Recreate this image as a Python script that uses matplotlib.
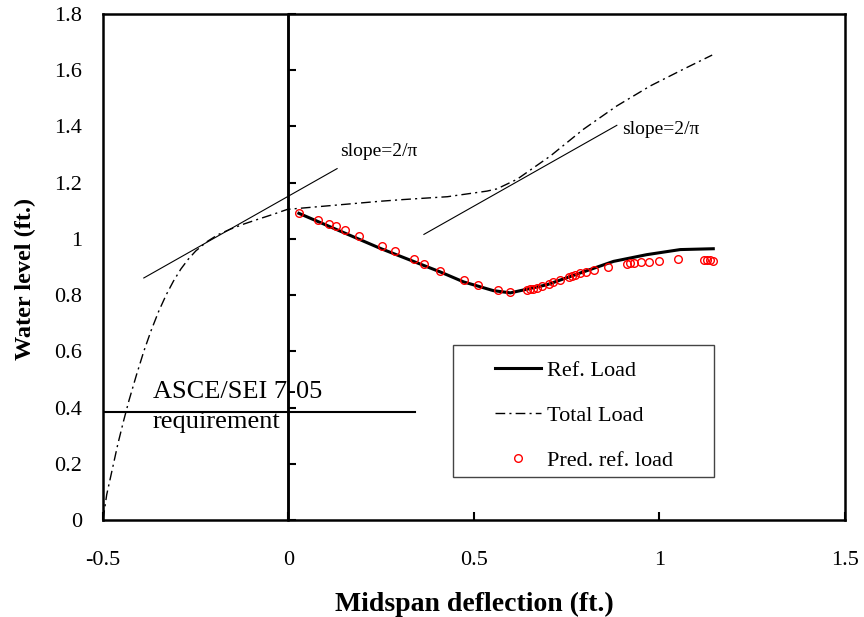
import matplotlib
matplotlib.use("Agg")
import matplotlib.pyplot as plt
from matplotlib.patches import Rectangle

plt.rcParams['font.family'] = ['Liberation Serif', 'DejaVu Serif']

# ---- data ----
total_x = [-0.500, -0.490, -0.475, -0.460, -0.445, -0.430, -0.410, -0.390, -0.370,
           -0.350, -0.330, -0.310, -0.290, -0.270, -0.250, -0.220, -0.190, -0.156,
           -0.120, -0.084, -0.040, -0.003, 0.023, 0.248, 0.310,
           0.428, 0.535, 0.562, 0.616, 0.706, 0.795, 0.885, 0.975, 1.065, 1.142]
total_y = [0.000, 0.090, 0.180, 0.270, 0.350, 0.425, 0.515, 0.600, 0.675,
           0.742, 0.800, 0.850, 0.893, 0.928, 0.957, 0.990, 1.015, 1.035,
           1.053, 1.069, 1.088, 1.105, 1.108, 1.134, 1.140,
           1.150, 1.170, 1.178, 1.212, 1.295, 1.390, 1.473, 1.544, 1.604, 1.654]

ref_x = [0.028, 0.248, 0.410, 0.472, 0.552, 0.598, 0.697, 0.787, 0.876, 0.966, 1.056, 1.145]
ref_y = [1.091, 0.966, 0.882, 0.847, 0.816, 0.808, 0.837, 0.879, 0.920, 0.944, 0.962, 0.965]

pred_x = [0.028, 0.080, 0.109, 0.127, 0.152, 0.191, 0.252, 0.286, 0.338, 0.366,
          0.409, 0.474, 0.511, 0.565, 0.596, 0.643, 0.650, 0.659, 0.670, 0.683,
          0.701, 0.713, 0.731, 0.755, 0.764, 0.773, 0.785, 0.803, 0.824, 0.860,
          0.912, 0.921, 0.932, 0.950, 0.971, 1.000, 1.049, 1.119, 1.128, 1.137, 1.144]
pred_y = [1.093, 1.067, 1.054, 1.045, 1.031, 1.010, 0.974, 0.956, 0.927, 0.911,
          0.886, 0.853, 0.836, 0.817, 0.810, 0.817, 0.820, 0.822, 0.827, 0.831,
          0.840, 0.846, 0.853, 0.864, 0.867, 0.871, 0.877, 0.884, 0.891, 0.900,
          0.912, 0.913, 0.915, 0.917, 0.919, 0.923, 0.927, 0.925, 0.924, 0.924, 0.923]

slope1_x = [-0.390, 0.131]
slope1_y = [0.861, 1.250]
slope2_x = [0.365, 0.885]
slope2_y = [1.016, 1.404]

asce_level = 0.384
asce_x = [-0.5, 0.342]

x_ticks = [-0.5, 0, 0.5, 1, 1.5]
x_labels = ['-0.5', '0', '0.5', '1', '1.5']
y_ticks = [0, 0.2, 0.4, 0.6, 0.8, 1.0, 1.2, 1.4, 1.6, 1.8]
y_labels = ['0', '0.2', '0.4', '0.6', '0.8', '1', '1.2', '1.4', '1.6', '1.8']

# ---- figure ----
fig = plt.figure(figsize=(8.64, 6.17), dpi=100)
ax = fig.add_axes([0.1192, 0.1572, 0.8588, 0.8201])
ax.set_xlim(-0.5, 1.5)
ax.set_ylim(0, 1.8)

for s in ax.spines.values():
    s.set_linewidth(1.8)

l_ref, = ax.plot(ref_x, ref_y, color='black', lw=2.2, label='Ref. Load', zorder=3)
l_tot, = ax.plot(total_x, total_y, color='black', lw=1.0, dashes=(7, 3, 1.5, 3),
                 label='Total Load', zorder=3)
l_pred, = ax.plot(pred_x, pred_y, ls='none', marker='o', ms=5.5, mfc='none',
                  mec='red', mew=1.0, label='Pred. ref. load', zorder=4)

ax.plot(slope1_x, slope1_y, color='black', lw=0.8)
ax.plot(slope2_x, slope2_y, color='black', lw=0.8)
ax.text(0.14, 1.31, 'slope=2/\u03c0', fontsize=14, va='center', ha='left')
ax.text(0.90, 1.388, 'slope=2/\u03c0', fontsize=14, va='center', ha='left')

ax.plot(asce_x, [asce_level, asce_level], color='black', lw=1.5)
ax.text(-0.366, 0.435, 'ASCE/SEI 7-05', fontsize=19, va='baseline', ha='left')
ax.text(-0.366, 0.327, 'requirement', fontsize=19, va='baseline', ha='left')

# vertical axis at x=0 with inward ticks
ax.axvline(0, color='black', lw=1.8, zorder=2)
sec = ax.secondary_yaxis(0.25)
sec.set_yticks(y_ticks)
sec.tick_params(direction='in', length=6, width=1.5, labelleft=False)
sec.spines['left'].set_linewidth(1.8)

ax.set_xticks(x_ticks)
ax.set_xticklabels(x_labels)
ax.set_yticks(y_ticks)
ax.set_yticklabels(y_labels)
ax.tick_params(axis='x', direction='in', length=6, width=1.5, pad=22, labelsize=16)
ax.tick_params(axis='y', length=0, pad=15, labelsize=16)

ax.set_xlabel('Midspan deflection (ft.)', fontsize=20, fontweight='bold', labelpad=16)
ax.set_ylabel('Water level (ft.)', fontsize=17.5, fontweight='bold')
ax.yaxis.set_label_coords(-0.090, 0.477)

# legend
ax.add_patch(Rectangle((0.472, 0.085), 0.351, 0.261, transform=ax.transAxes,
                       fill=False, ec='#444444', lw=1.0, zorder=5))
ax.legend(handles=[l_ref, l_tot, l_pred], loc='upper left',
          bbox_to_anchor=(0.528, 0.316), frameon=False, fontsize=16,
          handlelength=2.1, handletextpad=0.25, labelspacing=1.1,
          borderpad=0, borderaxespad=0)

fig.savefig('out.png', dpi=100)
